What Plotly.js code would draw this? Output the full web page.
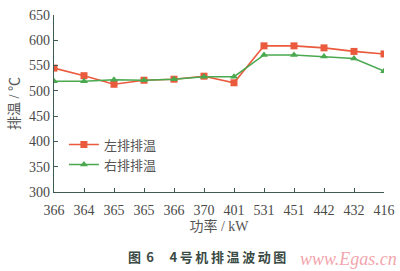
<!DOCTYPE html>
<html><head><meta charset="utf-8">
<script src="https://cdn.plot.ly/plotly-3.0.1.min.js"></script>
<style>html,body{margin:0;padding:0;background:#fff;}#chart{width:400px;height:271px;}</style>
</head><body><div id="chart"></div>
<script>
const categories = ["366","364","365","365","366","370","401","531","451","442","432","416"];
const leftTemp  = [545, 530, 513, 521, 523, 529, 516, 589, 589, 585, 578, 573];
const rightTemp = [519, 519, 522, 521, 523, 528, 528, 571, 571, 568, 564, 539];
const seriesNames = ["左排排温", "右排排温"];

const xIdx = categories.map((c, i) => i);
const serif = "'Liberation Serif', 'Times New Roman', 'Noto Sans CJK SC', serif";
const cjk = "'Noto Sans CJK SC', sans-serif";
const axisColor = "#3f5a52";
const textColor = "#4a4a4a";

const traces = [
  {x: xIdx, y: leftTemp, name: seriesNames[0], type: "scatter", mode: "lines+markers",
   line: {color: "#ea5a3c", width: 1.6}, marker: {symbol: "square", size: 7, color: "#ea5a3c"}},
  {x: xIdx, y: rightTemp, name: seriesNames[1], type: "scatter", mode: "lines+markers",
   line: {color: "#4aa84f", width: 1.6}, marker: {symbol: "triangle-up", size: 7, color: "#4aa84f"}}
];

const layout = {
  width: 400, height: 271,
  margin: {l: 54, r: 16, t: 15, b: 79},
  paper_bgcolor: "#fff", plot_bgcolor: "#fff",
  showlegend: true,
  legend: {x: 0.03, y: 0.07, xanchor: "left", yanchor: "bottom", bgcolor: "rgba(0,0,0,0)",
    font: {family: cjk, size: 13, color: "#555"}, itemwidth: 30, tracegroupgap: 0},
  xaxis: {
    range: [0, 11], tickmode: "array", tickvals: xIdx, ticktext: categories,
    showgrid: false, zeroline: false, showline: true, linecolor: axisColor, linewidth: 1.2,
    ticks: "inside", ticklen: 4, tickcolor: axisColor, ticklabelstandoff: 5,
    tickfont: {family: serif, size: 14, color: textColor},
    title: {text: "功率 / kW", font: {family: serif, size: 14, color: "#555"}, standoff: 3}
  },
  yaxis: {
    range: [300, 650], tickvals: [300,350,400,450,500,550,600,650],
    showgrid: false, zeroline: false, showline: true, linecolor: axisColor, linewidth: 1.2,
    ticks: "inside", ticklen: 4, tickcolor: axisColor,
    tickfont: {family: serif, size: 14, color: textColor},
    title: {text: "排温 / ℃", font: {family: serif, size: 14, color: "#555"}, standoff: 6}
  },
  annotations: [
    {xref: "paper", yref: "paper", x: 0.465, y: -0.365, xanchor: "center", yanchor: "middle", showarrow: false,
     text: "<b>图\u2009\u20096\u2003\u20094\u2009号\u2009机\u2009排\u2009温\u2009波\u2009动\u2009图</b>",
     font: {family: cjk, size: 13, color: "#3a4a44"}},
    {xref: "paper", yref: "paper", x: 1.045, y: -0.38, xanchor: "right", yanchor: "middle", showarrow: false,
     text: "<i>www.Egas.cn</i>", font: {family: serif, size: 18, color: "#f3a6ad"}}
  ]
};

Plotly.newPlot("chart", traces, layout, {displayModeBar: false, staticPlot: true});
</script></body></html>
